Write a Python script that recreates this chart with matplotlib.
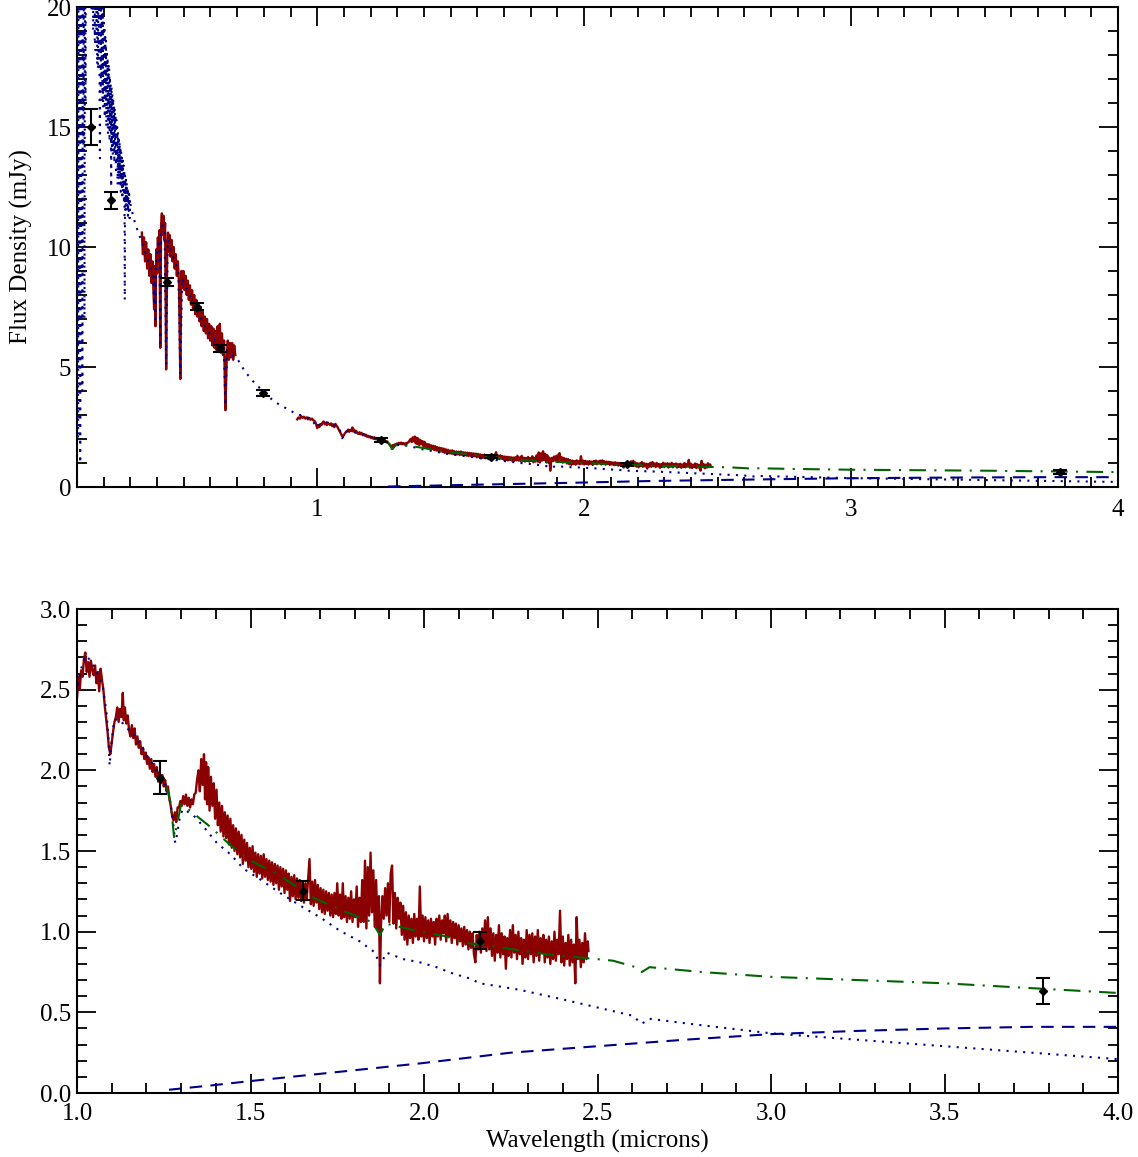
import matplotlib
matplotlib.use("Agg")
import matplotlib.pyplot as plt
from matplotlib.ticker import MultipleLocator, FormatStrFormatter

plt.rcParams['font.family'] = ['Liberation Serif', 'DejaVu Serif']

# ---------------- data ----------------
# photospheric model (dotted)
model_wl = [0.100, 0.102, 0.104, 0.106, 0.108, 0.110, 0.112, 0.114, 0.116, 0.118,
            0.120, 0.122, 0.124, 0.126, 0.128, 0.130, 0.132, 0.134, 0.137, 0.140,
            0.143, 0.146, 0.149,
            0.1500, 0.1515, 0.1530, 0.1545, 0.1560, 0.1575, 0.1590, 0.1605, 0.1620, 0.1635,
            0.1650, 0.1665, 0.1680, 0.1695, 0.1710, 0.1725, 0.1740, 0.1755, 0.1770, 0.1785,
            0.1800, 0.1815, 0.1830, 0.1845, 0.1860, 0.1875, 0.1890, 0.1905, 0.1920, 0.1935,
            0.1950, 0.1965, 0.1980, 0.1995, 0.2010, 0.2025, 0.2040, 0.2055, 0.2070, 0.2085,
            0.2100, 0.2115, 0.2130, 0.2145, 0.2160, 0.2175, 0.2190, 0.2205, 0.2220, 0.2235,
            0.2250, 0.2265, 0.2280, 0.2295, 0.2310, 0.2325, 0.2340, 0.2355, 0.2370, 0.2385,
            0.2400, 0.2415, 0.2430, 0.2445, 0.2460, 0.2475, 0.2490, 0.2505, 0.2520, 0.2535,
            0.2550, 0.2565, 0.2580, 0.2595, 0.2610, 0.2625, 0.2640, 0.2655, 0.2670, 0.2685,
            0.2700, 0.2715, 0.2730, 0.2745, 0.2760, 0.2775, 0.2790, 0.2805, 0.2820, 0.2835,
            0.2850, 0.2865, 0.2880, 0.2895, 0.2910, 0.2925, 0.2940, 0.2955, 0.2970, 0.2985,
            0.3000, 0.310, 0.320, 0.330,
            0.340, 0.350, 0.360, 0.370, 0.380, 0.386, 0.389, 0.391, 0.394, 0.397,
            0.403, 0.409, 0.412, 0.415, 0.420, 0.428, 0.434, 0.440, 0.450, 0.460,
            0.470, 0.480, 0.487, 0.494, 0.510, 0.530, 0.550, 0.570, 0.590, 0.610,
            0.630, 0.650, 0.656, 0.662, 0.680, 0.700, 0.730, 0.760, 0.800, 0.840,
            0.880, 0.920, 0.950, 0.975, 1.000, 1.010, 1.025, 1.040, 1.060, 1.075,
            1.085, 1.091, 1.094, 1.099, 1.107, 1.120, 1.145, 1.173, 1.202, 1.230,
            1.255, 1.270, 1.279, 1.283, 1.288, 1.298, 1.307, 1.336, 1.365, 1.403,
            1.442, 1.480, 1.524, 1.585, 1.652, 1.700, 1.758, 1.815, 1.859, 1.873,
            1.892, 1.940, 1.988, 2.036, 2.084, 2.132, 2.161, 2.275, 2.400, 2.500,
            2.600, 2.628, 2.650, 2.800, 3.000, 3.250, 3.500, 3.750, 4.000]
model_flux = [0.3, 24, 2, 23, 5, 25, 1.0, 22, 9, 24,
              4, 23, 14, 25, 7, 24, 16, 26, 28, 30,
              27, 29, 26,
              24.0, 20.5, 27.0, 19.8, 25.5, 21.0, 26.0, 19.0, 24.5, 20.0,
              23.5, 18.6, 25.0, 18.2, 23.0, 19.0, 22.5, 17.6, 23.5, 17.4,
              22.0, 18.0, 21.5, 16.5, 13.7, 21.0, 16.6, 20.5, 17.2, 20.8,
              16.0, 19.8, 15.8, 19.5, 16.4, 19.2, 15.4, 18.9, 15.9, 18.6,
              15.0, 18.2, 15.6, 17.9, 14.7, 17.7, 15.2, 17.4, 14.4, 17.1,
              14.9, 16.8, 12.5, 16.7, 14.2, 16.4, 13.8, 16.2, 14.3, 15.9,
              13.5, 15.8, 13.9, 15.5, 13.2, 15.3, 13.6, 15.0, 12.6, 14.8,
              13.1, 14.6, 12.6, 14.4, 12.9, 14.2, 12.3, 14.0, 12.6, 13.8,
              12.0, 13.6, 12.3, 13.4, 11.8, 13.2, 7.8, 13.0, 11.7, 12.8,
              11.5, 12.7, 11.7, 12.5, 11.3, 12.3, 11.5, 12.2, 11.2, 12.0,
              11.8, 11.3, 10.9, 10.6,
              10.3, 10.0, 9.6, 9.3, 8.9, 8.6, 7.6, 8.8, 7.0, 9.5,
              10.0, 10.3, 6.0, 10.6, 10.9, 10.7, 5.1, 10.3, 10.0, 9.6,
              9.3, 8.9, 4.7, 8.7, 8.3, 7.8, 7.35, 6.9, 6.5, 6.2,
              6.0, 5.8, 3.4, 5.7, 5.5, 5.35, 4.8, 4.4, 3.95, 3.55,
              3.3, 3.05, 2.95, 2.85, 2.49, 2.62, 2.71, 2.68, 2.59, 2.51,
              2.36, 2.18, 2.03, 2.16, 2.31, 2.32, 2.26, 2.20, 2.09, 2.00,
              1.91, 1.79, 1.64, 1.55, 1.60, 1.73, 1.76, 1.72, 1.65, 1.55,
              1.48, 1.39, 1.33, 1.24, 1.15, 1.09, 1.005, 0.94, 0.87, 0.79,
              0.87, 0.83, 0.81, 0.78, 0.74, 0.71, 0.68, 0.64, 0.58, 0.53,
              0.48, 0.43, 0.46, 0.42, 0.37, 0.33, 0.29, 0.25, 0.21]

# total model = photosphere + disk (dash-dot)
total_wl = [1.258, 1.270, 1.280, 1.287, 1.300, 1.320, 1.384, 1.440, 1.500, 1.576,
            1.681, 1.777, 1.850, 1.873, 1.890, 1.969, 2.065, 2.120, 2.200, 2.257,
            2.353, 2.449, 2.545, 2.610, 2.628, 2.650, 2.800, 3.000, 3.250, 3.500,
            3.750, 4.000]
total_flux = [1.90, 1.80, 1.58, 1.65, 1.79, 1.76, 1.65, 1.54, 1.44, 1.36,
              1.21, 1.12, 1.06, 0.98, 1.05, 1.01, 0.97, 0.93, 0.91, 0.89,
              0.86, 0.84, 0.82, 0.78, 0.75, 0.78, 0.75, 0.72, 0.70, 0.68,
              0.65, 0.62]

# disk / blackbody component (dashed)
disk_wl = [1.265, 1.400, 1.500, 1.750, 1.995, 2.250, 2.500, 2.750, 3.000, 3.250,
           3.500, 3.750, 4.000]
disk_flux = [0.02, 0.05, 0.074, 0.13, 0.185, 0.25, 0.29, 0.33, 0.365, 0.385,
             0.40, 0.41, 0.41]

# observed optical spectrum
opt_wl = [0.343, 0.347, 0.351, 0.355, 0.359, 0.363, 0.367, 0.371, 0.375, 0.379,
          0.383, 0.386, 0.389, 0.391, 0.394, 0.397, 0.400, 0.403, 0.406, 0.409,
          0.412, 0.415, 0.418, 0.421, 0.424, 0.427, 0.430, 0.434, 0.438, 0.441,
          0.444, 0.447, 0.450, 0.454, 0.458, 0.462, 0.466, 0.470, 0.474, 0.478,
          0.482, 0.487, 0.491, 0.495, 0.499, 0.503, 0.507, 0.511, 0.515, 0.519,
          0.523, 0.527, 0.531, 0.535, 0.539, 0.543, 0.547, 0.551, 0.555, 0.559,
          0.563, 0.567, 0.571, 0.575, 0.579, 0.583, 0.587, 0.591, 0.595, 0.599,
          0.603, 0.607, 0.611, 0.615, 0.619, 0.623, 0.627, 0.631, 0.635, 0.639,
          0.643, 0.647, 0.651, 0.656, 0.661, 0.665, 0.669, 0.673, 0.677, 0.681,
          0.685, 0.689, 0.693]
opt_flux = [10.6, 9.7, 10.4, 9.4, 10.2, 9.1, 9.9, 8.8, 9.7, 8.5,
            9.4, 8.3, 7.4, 9.2, 6.7, 9.9, 8.9, 10.4, 9.4, 10.7,
            5.8, 10.9, 11.4, 10.5, 11.3, 10.3, 11.0, 4.9, 9.9, 10.6,
            9.8, 10.5, 9.6, 10.3, 9.4, 10.0, 9.1, 9.7, 8.8, 9.4,
            8.5, 4.5, 9.0, 8.3, 9.0, 8.2, 8.8, 8.0, 8.6, 7.8,
            8.4, 7.6, 8.2, 7.4, 8.0, 7.2, 7.8, 7.1, 7.6, 6.9,
            7.5, 6.7, 7.3, 6.5, 7.1, 6.4, 7.0, 6.2, 6.8, 6.1,
            6.7, 5.9, 6.6, 5.8, 6.5, 5.7, 6.7, 5.7, 6.8, 5.6,
            6.4, 5.5, 6.1, 3.2, 5.4, 6.1, 5.3, 6.0, 5.4, 6.0,
            5.3, 5.9, 5.5]

# observed near-IR spectrum
ir_wl = [0.925, 0.930, 0.935, 0.940, 0.945, 0.950, 0.955, 0.960, 0.965, 0.970,
         0.975, 0.980, 0.985, 0.990, 0.995,
         1.000, 1.004, 1.008, 1.012, 1.016, 1.020, 1.024, 1.028, 1.032, 1.036,
         1.040, 1.044, 1.048, 1.052, 1.056, 1.060, 1.064, 1.068, 1.072, 1.076,
         1.080, 1.084, 1.088, 1.092, 1.096, 1.100, 1.104, 1.108, 1.112, 1.116,
         1.120, 1.124, 1.128, 1.132, 1.135, 1.138, 1.142, 1.146, 1.150, 1.154,
         1.158, 1.162, 1.166, 1.170, 1.174, 1.178, 1.182, 1.186, 1.190, 1.194,
         1.198, 1.202, 1.206, 1.210, 1.214, 1.218, 1.222, 1.226, 1.230, 1.234,
         1.238, 1.242, 1.246, 1.250, 1.254, 1.258, 1.262, 1.266, 1.270, 1.274,
         1.278, 1.282, 1.286, 1.290, 1.294, 1.298, 1.302, 1.306, 1.310, 1.314,
         1.318, 1.322, 1.326, 1.330, 1.334, 1.338, 1.342, 1.346, 1.350, 1.354,
         1.358, 1.362, 1.366, 1.369, 1.372, 1.375, 1.378, 1.382, 1.386, 1.390,
         1.394, 1.398, 1.402, 1.406, 1.410, 1.414, 1.418, 1.422, 1.426, 1.430,
         1.434, 1.438, 1.442, 1.446, 1.450, 1.454, 1.458, 1.462, 1.466, 1.470,
         1.474, 1.478, 1.482, 1.486, 1.490, 1.494, 1.498, 1.502, 1.506, 1.510,
         1.514, 1.518, 1.522, 1.526, 1.530, 1.534, 1.538, 1.542, 1.546, 1.550,
         1.554, 1.558, 1.562, 1.566, 1.570, 1.574, 1.578, 1.582, 1.586, 1.590,
         1.594, 1.598, 1.602, 1.606, 1.610, 1.614, 1.618, 1.622, 1.626, 1.630,
         1.634, 1.638, 1.642, 1.646, 1.650, 1.654, 1.658, 1.662, 1.666, 1.670,
         1.674, 1.678, 1.682, 1.686, 1.690, 1.694, 1.698, 1.702, 1.706, 1.710,
         1.714, 1.718, 1.722, 1.726, 1.730, 1.734, 1.738, 1.742, 1.746, 1.750,
         1.754, 1.758, 1.762, 1.766, 1.770, 1.774, 1.778, 1.782, 1.786, 1.790,
         1.794, 1.798, 1.802, 1.806, 1.810, 1.814, 1.818, 1.822, 1.826, 1.830,
         1.834, 1.838, 1.842, 1.846, 1.850, 1.854, 1.858, 1.862, 1.866, 1.870,
         1.873, 1.876, 1.880, 1.884, 1.888, 1.892, 1.896, 1.900, 1.904, 1.908,
         1.912, 1.916, 1.920, 1.924, 1.928, 1.932, 1.936, 1.940, 1.944, 1.948,
         1.952, 1.956, 1.960, 1.964, 1.968, 1.972, 1.976, 1.980, 1.984, 1.988,
         1.992, 1.996, 2.000, 2.004, 2.008, 2.012, 2.016, 2.020, 2.024, 2.028,
         2.032, 2.036, 2.040, 2.044, 2.048, 2.052, 2.056, 2.060, 2.064, 2.068,
         2.072, 2.076, 2.080, 2.084, 2.088, 2.092, 2.096, 2.100, 2.104, 2.108,
         2.112, 2.116, 2.120, 2.124, 2.128, 2.132, 2.136, 2.140, 2.144, 2.148,
         2.152, 2.156, 2.160, 2.164, 2.168, 2.172, 2.176, 2.180, 2.184, 2.188,
         2.192, 2.196, 2.200, 2.204, 2.208, 2.212, 2.216, 2.220, 2.224, 2.228,
         2.232, 2.236, 2.240, 2.244, 2.248, 2.252, 2.256, 2.260, 2.264, 2.268,
         2.272, 2.276, 2.280, 2.284, 2.288, 2.292, 2.296, 2.300, 2.304, 2.308,
         2.312, 2.316, 2.320, 2.324, 2.328, 2.332, 2.336, 2.340, 2.344, 2.348,
         2.352, 2.356, 2.360, 2.364, 2.368, 2.372, 2.376, 2.380, 2.384, 2.388,
         2.392, 2.396, 2.400, 2.404, 2.408, 2.412, 2.416, 2.420, 2.424, 2.428,
         2.432, 2.436, 2.440, 2.444, 2.448, 2.452, 2.456, 2.460, 2.464, 2.468,
         2.472, 2.474]
ir_flux = [2.82, 2.90, 2.85, 2.95, 2.88, 2.93, 2.85, 2.90, 2.82, 2.88,
           2.80, 2.85, 2.78, 2.75, 2.65,
           2.45, 2.58, 2.50, 2.62, 2.58, 2.69, 2.73, 2.61, 2.67, 2.58,
           2.68, 2.62, 2.59, 2.65, 2.54, 2.61, 2.49, 2.63, 2.56, 2.50,
           2.40, 2.32, 2.24, 2.14, 2.10, 2.17, 2.24, 2.30, 2.33, 2.39,
           2.30, 2.38, 2.33, 2.48, 2.31, 2.39, 2.29, 2.34, 2.25, 2.21,
           2.28, 2.20, 2.26, 2.16, 2.21, 2.14, 2.18, 2.10, 2.14, 2.07,
           2.11, 2.04, 2.08, 2.01, 2.07, 1.99, 2.04, 1.96, 2.02, 1.93,
           1.99, 1.92, 1.97, 1.90, 1.94, 1.87, 1.90, 1.83, 1.78, 1.72,
           1.69, 1.74, 1.68, 1.77, 1.77, 1.81, 1.78, 1.84, 1.79, 1.85,
           1.78, 1.83, 1.77, 1.82, 1.79, 1.85, 1.86, 1.94, 2.00, 1.87,
           2.07, 1.91, 2.10, 1.82, 2.05, 1.79, 2.02, 1.75, 1.96, 1.78,
           1.92, 1.70, 1.88, 1.66, 1.80, 1.62, 1.78, 1.59, 1.74, 1.58,
           1.72, 1.54, 1.70, 1.52, 1.66, 1.50, 1.64, 1.48, 1.62, 1.46,
           1.60, 1.42, 1.57, 1.44, 1.55, 1.40, 1.52, 1.39, 1.53, 1.37,
           1.49, 1.34, 1.48, 1.36, 1.47, 1.33, 1.48, 1.34, 1.45, 1.32,
           1.44, 1.31, 1.43, 1.29, 1.42, 1.30, 1.41, 1.26, 1.40, 1.28,
           1.39, 1.24, 1.38, 1.26, 1.36, 1.19, 1.34, 1.22, 1.35, 1.20,
           1.33, 1.21, 1.32, 1.19, 1.31, 1.18, 1.30, 1.20, 1.33, 1.45,
           1.17, 1.31, 1.16, 1.32, 1.18, 1.29, 1.14, 1.27, 1.12, 1.26,
           1.11, 1.25, 1.13, 1.24, 1.10, 1.23, 1.09, 1.24, 1.11, 1.30,
           1.10, 1.23, 1.08, 1.30, 1.09, 1.22, 1.06, 1.21, 1.08, 1.25,
           1.06, 1.20, 1.09, 1.28, 1.03, 1.21, 1.06, 1.32, 1.06, 1.44,
           1.02, 1.40, 1.10, 1.49, 1.12, 1.38, 1.03, 1.32, 1.02, 1.22,
           0.68, 1.04, 1.22, 1.08, 1.27, 1.10, 1.30, 1.06, 1.36, 1.41,
           1.05, 1.24, 1.02, 1.21, 1.08, 1.18, 0.98, 1.16, 0.95, 1.12,
           0.92, 1.10, 0.96, 1.08, 0.93, 1.11, 0.97, 1.08, 0.95, 1.28,
           0.97, 1.10, 0.94, 1.09, 0.96, 1.07, 0.93, 1.08, 0.97, 1.06,
           0.92, 1.08, 0.97, 1.10, 0.95, 1.07, 0.99, 1.10, 0.94, 1.11,
           0.97, 1.07, 0.93, 1.06, 0.96, 1.05, 0.92, 1.04, 0.94, 1.02,
           0.91, 1.03, 0.92, 1.01, 0.89, 1.00, 0.90, 0.99, 0.86, 0.81,
           0.98, 0.89, 1.00, 0.87, 1.02, 0.90, 1.07, 0.88, 1.09, 0.89,
           1.02, 0.85, 0.99, 0.82, 0.98, 0.87, 1.04, 0.84, 0.99, 0.86,
           0.97, 0.77, 0.96, 0.85, 1.01, 0.84, 1.04, 0.87, 0.98, 0.83,
           1.00, 0.86, 0.96, 0.80, 0.95, 0.84, 1.01, 0.83, 0.98, 0.86,
           0.99, 0.81, 0.97, 0.85, 1.01, 0.82, 0.96, 0.87, 0.98, 0.81,
           0.95, 0.84, 0.97, 0.80, 0.94, 0.83, 1.00, 0.82, 0.95, 0.86,
           1.13, 0.81, 0.97, 0.79, 0.93, 0.83, 0.98, 0.79, 0.95, 0.81,
           0.92, 0.68, 1.09, 0.83, 0.95, 0.78, 0.93, 0.81, 0.99, 0.83,
           0.94, 0.88]

# photometry
phot_wl = [0.154, 0.228, 0.438, 0.551, 0.637, 0.798, 1.240, 1.650, 2.160, 3.784]
phot_flux = [15.0, 11.95, 8.55, 7.52, 5.78, 3.93, 1.955, 1.255, 0.945, 0.63]
phot_err = [0.75, 0.35, 0.17, 0.15, 0.15, 0.12, 0.10, 0.06, 0.05, 0.08]

# ---------------- styles ----------------
RED = '#8b0000'
NAVY = '#00008b'
GREEN = '#006400'
dotted = (0, (1, 3))
dashed = (0, (6, 4))
dashdot = (0, (8, 4, 1, 4))
FS = 18

fig = plt.figure(figsize=(11.38, 11.57), dpi=100)
ax1 = fig.add_axes([77/1138, 1-487/1157, 1041/1138, 480/1157])
ax2 = fig.add_axes([77/1138, 1-1093/1157, 1041/1138, 484/1157])


def draw(ax, top):
    if top:
        ax.plot(opt_wl, opt_flux, color=RED, lw=1.7, zorder=2)
    ax.plot(ir_wl, ir_flux, color=RED, lw=1.7, zorder=2)
    ax.plot(model_wl, model_flux, color=NAVY, lw=1.5, ls=dotted, zorder=3)
    ax.plot(total_wl, total_flux, color=GREEN, lw=1.5, ls=dashdot, zorder=3)
    ax.plot(disk_wl, disk_flux, color=NAVY, lw=1.5, ls=dashed, zorder=3)
    ax.errorbar(phot_wl, phot_flux, yerr=phot_err, fmt='D', color='k',
                ms=4.5, mfc='k', mec='k', elinewidth=1.5, capsize=5,
                capthick=1.5, zorder=5)
    ax.tick_params(which='both', direction='in', top=True, right=True,
                   labelsize=FS, width=1.3)
    ax.tick_params(which='major', length=14)
    ax.tick_params(which='minor', length=7)
    for s in ax.spines.values():
        s.set_linewidth(1.5)


draw(ax1, True)
ax1.set_xlim(0.1, 4.0)
ax1.set_ylim(0, 20)
ax1.xaxis.set_major_locator(MultipleLocator(1))
ax1.xaxis.set_minor_locator(MultipleLocator(0.1))
ax1.yaxis.set_major_locator(MultipleLocator(5))
ax1.yaxis.set_minor_locator(MultipleLocator(1))
ax1.tick_params(axis='x', pad=9)
ax1.tick_params(axis='y', pad=4)
ax1.set_ylabel('Flux Density (mJy)', fontsize=FS, labelpad=10)

draw(ax2, False)
ax2.set_xlim(1.0, 4.0)
ax2.set_ylim(0, 3.0)
ax2.xaxis.set_major_locator(MultipleLocator(0.5))
ax2.xaxis.set_minor_locator(MultipleLocator(0.1))
ax2.yaxis.set_major_locator(MultipleLocator(0.5))
ax2.yaxis.set_minor_locator(MultipleLocator(0.1))
ax2.xaxis.set_major_formatter(FormatStrFormatter('%.1f'))
ax2.yaxis.set_major_formatter(FormatStrFormatter('%.1f'))
ax2.tick_params(axis='x', pad=7)
ax2.tick_params(axis='y', pad=4)
ax2.set_xlabel('Wavelength (microns)', fontsize=FS, labelpad=4)

fig.savefig('out.png', dpi=100)
